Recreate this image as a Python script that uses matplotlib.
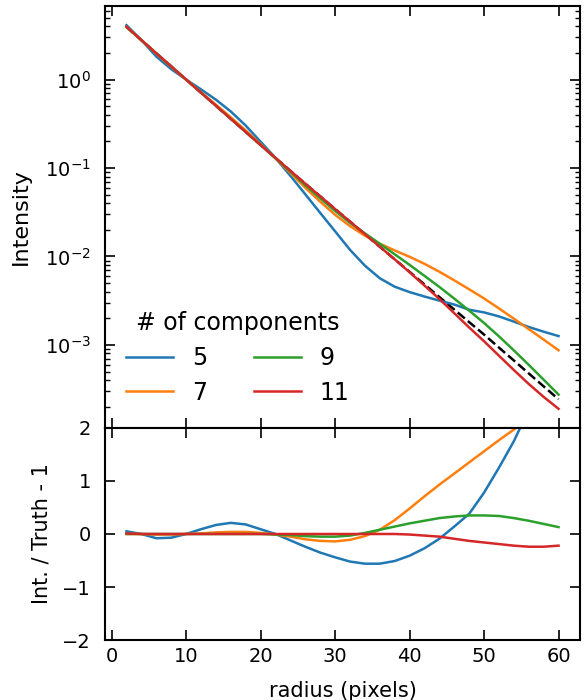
import numpy as np
import matplotlib
matplotlib.use('Agg')
from matplotlib import pyplot as plt
from matplotlib.ticker import LogLocator, NullFormatter

# radius in pixels
radius = [2, 4, 6, 8, 10, 12, 14, 16, 18, 20, 22, 24, 26, 28, 30,
          32, 34, 36, 38, 40, 42, 44, 46, 48, 50, 52, 54, 56, 58, 60]

# true profile
truth = [3.92, 2.79, 1.98, 1.41, 1.0, 0.711, 0.506, 0.360, 0.256, 0.182,
         0.130, 0.0929, 0.0665, 0.0479, 0.0344, 0.0248, 0.0179, 0.0129,
         0.00929, 0.00670, 0.00483, 0.00348, 0.00251, 0.00181, 0.00131,
         0.000933, 0.000667, 0.000476, 0.000340, 0.000243]

# Int. / Truth - 1 for each number of components
res_5 = [0.05, 0.00, -0.08, -0.07, 0.00, 0.09, 0.17, 0.21, 0.18, 0.09,
         0.00, -0.12, -0.24, -0.35, -0.44, -0.52, -0.56, -0.56, -0.51, -0.41,
         -0.27, -0.09, 0.14, 0.38, 0.78, 1.25, 1.75, 2.35, 3.15, 4.18]
res_7 = [0.00, 0.00, -0.01, -0.01, 0.00, 0.01, 0.03, 0.04, 0.04, 0.02,
         -0.01, -0.05, -0.10, -0.13, -0.14, -0.11, -0.04, 0.08, 0.26, 0.48,
         0.71, 0.93, 1.14, 1.35, 1.56, 1.77, 1.97, 2.17, 2.38, 2.58]
res_9 = [0.00, 0.00, 0.00, 0.00, 0.00, 0.00, 0.00, 0.00, 0.00, 0.00,
         -0.01, -0.02, -0.04, -0.05, -0.05, -0.03, 0.02, 0.08, 0.14, 0.20,
         0.25, 0.30, 0.33, 0.35, 0.35, 0.34, 0.30, 0.25, 0.19, 0.13]
res_11 = [0.01, 0.00, 0.00, 0.00, 0.00, 0.00, 0.00, 0.00, 0.00, 0.00,
          0.00, 0.00, 0.00, 0.00, 0.00, 0.00, 0.00, 0.00, 0.00, -0.01,
          -0.03, -0.05, -0.09, -0.13, -0.16, -0.19, -0.22, -0.24, -0.24, -0.22]

n_comp = [5, 7, 9, 11]
residuals = [res_5, res_7, res_9, res_11]
colors = ['#1f77b4', '#ff7f0e', '#2ca02c', '#d62728']

plt.rcParams['font.size'] = 14
plt.rcParams['axes.linewidth'] = 1.5

fig = plt.figure(figsize=(5.86, 7), dpi=100)
ax1 = fig.add_axes([0.179, 0.3886, 0.811, 0.6028])
ax2 = fig.add_axes([0.179, 0.0857, 0.811, 0.3029], sharex=ax1)

r = np.array(radius)
t = np.array(truth)

ax1.plot(r, t, '--', color='black', lw=1.8)
for n, res, c in zip(n_comp, residuals, colors):
    model = t * (1 + np.array(res))
    ax1.plot(r, model, color=c, lw=1.8, label=str(n))
    ax2.plot(r, res, color=c, lw=1.8)

ax1.set_yscale('log')
ax1.set_ylabel('Intensity', fontsize=16, labelpad=10)
ax1.yaxis.set_minor_locator(LogLocator(base=10, subs=np.arange(2, 10)))
ax1.yaxis.set_minor_formatter(NullFormatter())
leg = ax1.legend(title='# of components', ncol=2, frameon=False,
                 loc='lower left', bbox_to_anchor=(0.0, 0.005),
                 fontsize=17, title_fontsize=17, handlelength=2.0,
                 columnspacing=1.95, labelspacing=0.45)
plt.setp(ax1.get_xticklabels(), visible=False)

ax2.set_ylim(-2, 2)
ax2.set_yticks([-2, -1, 0, 1, 2])
ax2.set_xticks([0, 10, 20, 30, 40, 50, 60])
ax2.set_xlabel('radius (pixels)', fontsize=15, labelpad=11)
ax2.set_ylabel('Int. / Truth - 1', fontsize=15, labelpad=8)

for ax in (ax1, ax2):
    ax.tick_params(which='both', direction='in', top=True, right=True)
    ax.tick_params(which='major', length=7, width=1.2)
    ax.tick_params(which='minor', length=3.5, width=1.0)
    ax.tick_params(axis='y', which='major', pad=10)
    ax.tick_params(axis='x', which='major', pad=5)

plt.savefig('out.png', dpi=100)
